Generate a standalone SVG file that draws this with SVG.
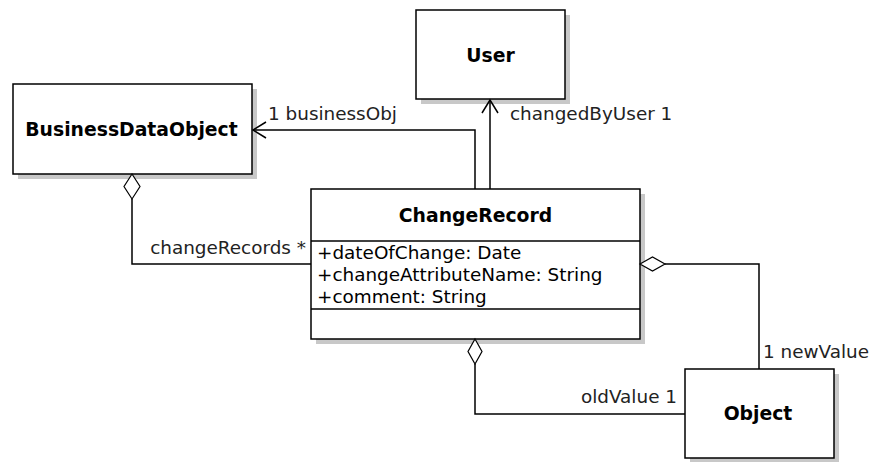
<svg xmlns="http://www.w3.org/2000/svg" width="870" height="462" viewBox="0 0 870 462">
<style>
.box{fill:#fff;stroke:#000;stroke-width:1.5}
.sh{fill:#c8c8c8}
.t{font-family:"DejaVu Sans",sans-serif;font-size:18.4px;fill:#000}
.b{font-weight:bold;text-anchor:middle;font-size:18.8px}
.l{fill:#222}
.ln{fill:none;stroke:#000;stroke-width:1.5}
.dia{fill:#fff;stroke:#000;stroke-width:1.2}
</style>
<rect width="870" height="462" fill="#fff"/>
<g id="BusinessDataObject">
<rect class="sh" x="18" y="89" width="239" height="90"/>
<rect class="box" x="13" y="84" width="239" height="90"/>
<text class="t b" x="131.5" y="136">BusinessDataObject</text>
</g>
<g id="User">
<rect class="sh" x="421" y="15" width="149" height="89"/>
<rect class="box" x="416" y="10" width="149" height="89"/>
<text class="t b" x="490.5" y="62">User</text>
</g>
<g id="ChangeRecord">
<rect class="sh" x="316" y="194" width="329" height="150"/>
<rect class="box" x="311" y="189" width="329" height="150"/>
<line class="ln" x1="311" y1="241" x2="640" y2="241"/>
<line class="ln" x1="311" y1="309" x2="640" y2="309"/>
<text class="t b" x="475.5" y="222">ChangeRecord</text>
<text class="t" x="317" y="259">+dateOfChange: Date</text>
<text class="t" x="317" y="281">+changeAttributeName: String</text>
<text class="t" x="317" y="303">+comment: String</text>
</g>
<g id="Object">
<rect class="sh" x="690" y="374" width="149" height="89"/>
<rect class="box" x="685" y="369" width="149" height="89"/>
<text class="t b" x="758" y="420">Object</text>
</g>
<g id="connectors">
<polyline class="ln" points="475,189 475,130 253,130"/>
<polyline class="ln" points="266,122 253,130 266,138"/>
<text class="t l" x="268" y="120">1 businessObj</text>
<line class="ln" x1="490" y1="189" x2="490" y2="100"/>
<polyline class="ln" points="482,113 490,100 498,113"/>
<text class="t l" x="510" y="120">changedByUser 1</text>
<polyline class="ln" points="132,199 132,264 311,264"/>
<polygon class="dia" points="132,174 140,186.5 132,199 124,186.5"/>
<text class="t l" x="306" y="254" text-anchor="end">changeRecords *</text>
<polyline class="ln" points="665,264 759,264 759,369"/>
<polygon class="dia" points="640,264 652.5,257 665,264 652.5,271"/>
<text class="t l" x="763" y="358">1 newValue</text>
<polyline class="ln" points="475,364 475,414 685,414"/>
<polygon class="dia" points="475,339 482,351.5 475,364 468,351.5"/>
<text class="t l" x="677" y="403" text-anchor="end">oldValue 1</text>
</g>
</svg>
